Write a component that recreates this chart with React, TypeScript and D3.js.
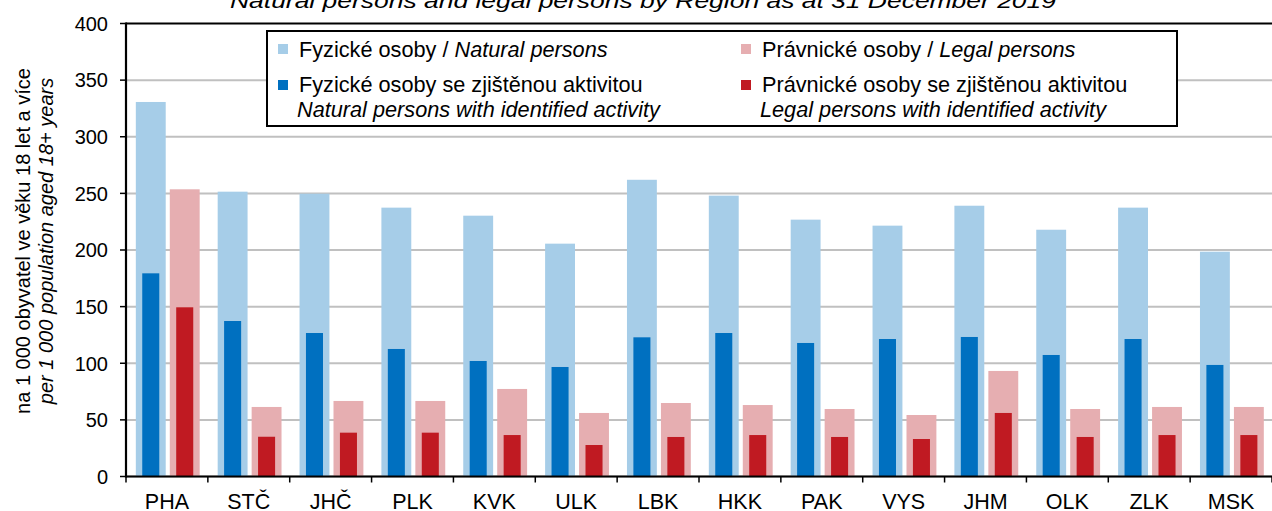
import React, { useEffect } from "react";
import * as d3 from "d3";

const regions = ["PHA", "STČ", "JHČ", "PLK", "KVK", "ULK", "LBK", "HKK", "PAK", "VYS", "JHM", "OLK", "ZLK", "MSK"];
const naturalPersons = [330.7, 251.5, 249.7, 237.4, 230.3, 205.6, 262.0, 248.0, 226.8, 221.5, 239.1, 217.9, 237.4, 198.5];
const naturalActive = [179.4, 137.3, 126.7, 112.6, 102.0, 96.7, 122.9, 126.7, 117.9, 121.4, 123.2, 107.3, 121.4, 98.5];
const legalPersons = [253.6, 61.4, 66.7, 66.7, 77.3, 56.1, 64.9, 63.1, 59.6, 54.3, 93.2, 59.6, 61.4, 61.4];
const legalActive = [149.4, 35.1, 38.7, 38.7, 36.6, 27.8, 34.9, 36.6, 34.9, 33.1, 56.1, 34.9, 36.6, 36.6];
const yTicks = [0, 50, 100, 150, 200, 250, 300, 350, 400];

const titleText = "Natural persons and legal persons by Region as at 31 December 2019";
const yTitleCz = "na 1 000 obyvatel ve věku 18 let a více";
const yTitleEn = "per 1 000 population aged 18+ years";

const C_LB = "#a6cde8";
const C_DB = "#0070c0";
const C_LR = "#e6aeb1";
const C_DR = "#c01a22";
const FONT = "'Liberation Sans', Arial, sans-serif";

export default function App() {
  useEffect(() => {
    document.body.style.margin = "0";
  }, []);
  const W = 1272, H = 511;
  const left = 126, right = 1272, top = 23.5, bottom = 476.5;
  const x = d3.scaleBand<string>().domain(regions).range([left, right]).padding(0);
  const y = d3.scaleLinear().domain([0, 400]).range([bottom, top]);
  const bw = x.bandwidth();
  const inner = d3.scaleBand<string>().domain(["F", "P"]).range([0.12 * bw, 0.9 * bw]).paddingInner(0.12);
  const iw = inner.bandwidth();
  const dw = iw * 0.57;

  const bars: React.ReactNode[] = [];
  regions.forEach((r, i) => {
    const x0 = x(r)!;
    const xf = x0 + inner("F")!;
    const xp = x0 + inner("P")!;
    bars.push(<rect key={"lb" + i} x={xf} width={iw} y={y(naturalPersons[i])} height={y(0) - y(naturalPersons[i])} fill={C_LB} />);
    bars.push(<rect key={"lr" + i} x={xp} width={iw} y={y(legalPersons[i])} height={y(0) - y(legalPersons[i])} fill={C_LR} />);
    bars.push(<rect key={"db" + i} x={xf + (iw - dw) / 2} width={dw} y={y(naturalActive[i])} height={y(0) - y(naturalActive[i])} fill={C_DB} />);
    bars.push(<rect key={"dr" + i} x={xp + (iw - dw) / 2} width={dw} y={y(legalActive[i])} height={y(0) - y(legalActive[i])} fill={C_DR} />);
  });

  const boundaries = regions.map((r) => x(r)!).concat([right]);
  const FL = 21.7;

  return (
    <svg width={W} height={H} style={{ position: "absolute", left: 0, top: 0, display: "block" }} fontFamily={FONT}>
      <rect x={0} y={0} width={W} height={H} fill="#fff" />
      <text x={643} y={8} textAnchor="middle" fontSize={21} fontStyle="italic" fill="#000" textLength={826} lengthAdjust="spacingAndGlyphs">{titleText}</text>
      {yTicks.slice(0, -1).map((t) => (
        <line key={"g" + t} x1={left} x2={right} y1={y(t)} y2={y(t)} stroke="#c0c0c0" strokeWidth={2} />
      ))}
      {bars}
      <line x1={left} x2={right} y1={y(400)} y2={y(400)} stroke="#000" strokeWidth={2.2} />
      <line x1={left} x2={left} y1={y(400) - 1} y2={y(0) + 1} stroke="#000" strokeWidth={2.2} />
      {yTicks.map((t) => (
        <g key={"yt" + t}>
          <line x1={left - 6} x2={left} y1={y(t)} y2={y(t)} stroke="#000" strokeWidth={1.5} />
          <text x={108} y={y(t) + 7.3} textAnchor="end" fontSize={20} fill="#000">{t}</text>
        </g>
      ))}
      <line x1={left} x2={right} y1={y(0)} y2={y(0)} stroke="#000" strokeWidth={2.2} />
      {boundaries.map((b, i) => (
        <line key={"xt" + i} x1={b} x2={b} y1={y(0)} y2={y(0) + 6} stroke="#000" strokeWidth={1.5} />
      ))}
      {regions.map((r) => (
        <text key={"xl" + r} x={x(r)! + bw / 2} y={508.5} textAnchor="middle" fontSize={21.5} fill="#000">{r}</text>
      ))}
      <text transform="translate(30,241) rotate(-90)" textAnchor="middle" fontSize={20} fill="#000">{yTitleCz}</text>
      <text transform="translate(53,241) rotate(-90)" textAnchor="middle" fontSize={20} fontStyle="italic" fill="#000">{yTitleEn}</text>
      <rect x={267} y={31} width={910} height={95} fill="#fff" stroke="#000" strokeWidth={2} />
      <rect x={278} y={44} width={10} height={10} fill={C_LB} />
      <text x={299} y={57} fontSize={FL} fill="#000">Fyzické osoby / <tspan fontStyle="italic">Natural persons</tspan></text>
      <rect x={278} y={80} width={10} height={10} fill={C_DB} />
      <text x={299} y={92} fontSize={FL} fill="#000">Fyzické osoby se zjištěnou aktivitou</text>
      <text x={297} y={117} fontSize={FL} fontStyle="italic" fill="#000">Natural persons with identified activity</text>
      <rect x={741} y={44} width={10} height={10} fill={C_LR} />
      <text x={762} y={57} fontSize={FL} fill="#000">Právnické osoby / <tspan fontStyle="italic">Legal persons</tspan></text>
      <rect x={741} y={80} width={10} height={10} fill={C_DR} />
      <text x={762} y={92} fontSize={FL} fill="#000">Právnické osoby se zjištěnou aktivitou</text>
      <text x={760} y={117} fontSize={FL} fontStyle="italic" fill="#000">Legal persons with identified activity</text>
    </svg>
  );
}
